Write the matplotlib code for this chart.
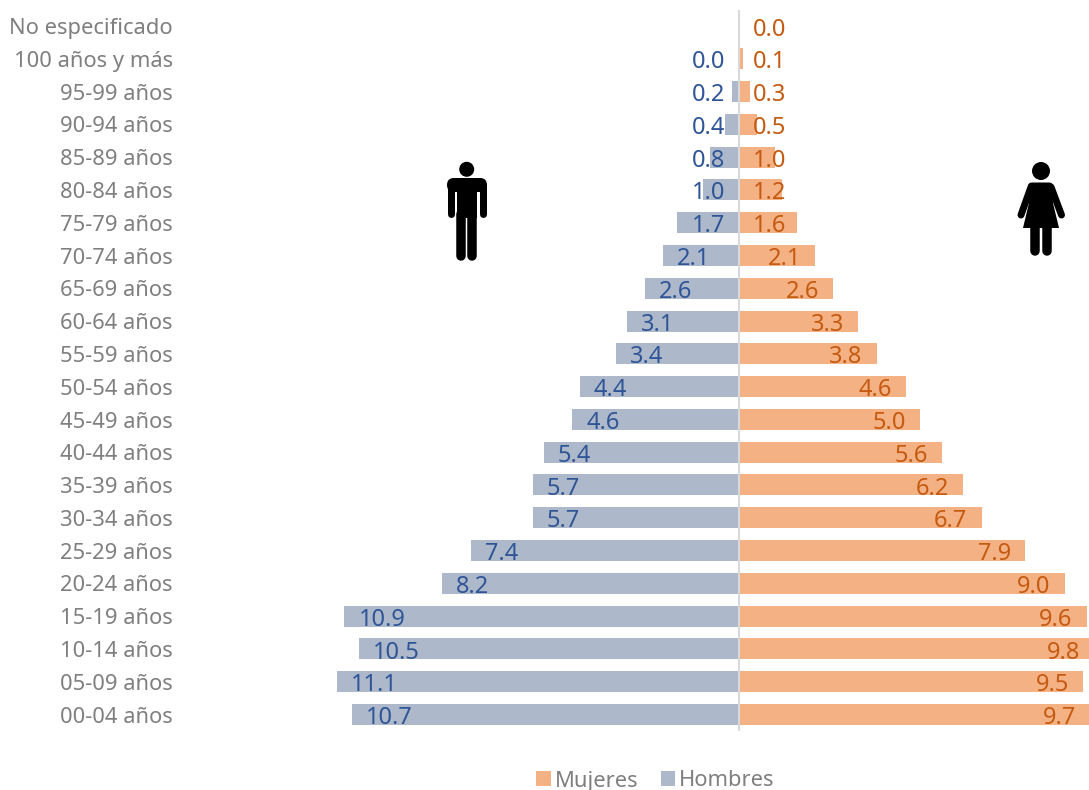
import matplotlib
matplotlib.use('Agg')
import matplotlib.pyplot as plt
from matplotlib.patches import Circle, Polygon, Rectangle, FancyBboxPatch

# age groups, listed from the bottom of the pyramid up
grupos = ['00-04 años', '05-09 años', '10-14 años', '15-19 años', '20-24 años', '25-29 años',
          '30-34 años', '35-39 años', '40-44 años', '45-49 años', '50-54 años', '55-59 años',
          '60-64 años', '65-69 años', '70-74 años', '75-79 años', '80-84 años', '85-89 años',
          '90-94 años', '95-99 años', '100 años y más', 'No especificado']
hombres = [10.7, 11.1, 10.5, 10.9, 8.2, 7.4, 5.7, 5.7, 5.4, 4.6, 4.4, 3.4, 3.1, 2.6, 2.1, 1.7,
           1.0, 0.8, 0.4, 0.2, 0.0, 0.0]
mujeres = [9.7, 9.5, 9.8, 9.6, 9.0, 7.9, 6.7, 6.2, 5.6, 5.0, 4.6, 3.8, 3.3, 2.6, 2.1, 1.6,
           1.2, 1.0, 0.5, 0.3, 0.1, 0.0]

plt.rcParams['font.family'] = ['Noto Sans', 'DejaVu Sans']

COL_H = '#ADB9CA'
COL_M = '#F4B183'
TXT_H = '#2F5597'
TXT_M = '#C55A11'
GRIS = '#7F7F7F'

fig = plt.figure(figsize=(10.89, 7.90), dpi=100)
ax = fig.add_axes([0, 0, 1, 1])
ax.set_xlim(-739 / 36.2, 350 / 36.2)
ax.set_ylim(-75.5 / 32.79, 714.5 / 32.79)
ax.axis('off')

pos = list(range(len(grupos)))
ax.barh(pos, mujeres, height=0.64, color=COL_M, label='Mujeres')
ax.barh(pos, [-v for v in hombres], height=0.64, color=COL_H, label='Hombres')
ax.vlines(0, -0.5, 21.5, color='#D9D9D9', lw=1.5)

for i, g in enumerate(grupos):
    ax.text(-15.64, i - 0.08, g, ha='right', va='center', color=GRIS, fontsize=15.8)
    # labels sit just inside the bar end, small bars get a fixed spot
    if i < 21:
        ax.text(min(-hombres[i] + 0.39, -1.3), i - 0.11, f'{hombres[i]:.1f}', ha='left', va='center',
                color=TXT_H, fontsize=17)
    ax.text(max(mujeres[i] - 0.39, 1.3), i - 0.11, f'{mujeres[i]:.1f}', ha='right', va='center',
            color=TXT_M, fontsize=17)

leg = ax.legend(handles=ax.containers[:2], loc='center', bbox_to_anchor=(655.5 / 1089, 1 - 781 / 790),
                ncol=2, frameon=False, fontsize=15.8, labelcolor=GRIS, handlelength=0.65, handleheight=0.65,
                handletextpad=0.2, columnspacing=1.0, borderpad=0, borderaxespad=0)

# icons, drawn on an overlay in pixel coordinates
ov = fig.add_axes([0, 0, 1, 1])
ov.set_xlim(0, 1089)
ov.set_ylim(790, 0)
ov.axis('off')
px = 72 / 100

# man
ov.add_patch(Circle((466.7, 169.3), 7.5, color='black', lw=0))
ov.add_patch(FancyBboxPatch((447, 178), 40, 14, boxstyle='round,pad=0,rounding_size=7', color='black', lw=0))
ov.add_patch(Rectangle((456.7, 180), 20.6, 38, color='black', lw=0))
for x in [450.7, 483.3]:
    ov.plot([x, x], [186, 213.5], color='black', lw=7 * px, solid_capstyle='round')
for x in [461.3, 472.3]:
    ov.plot([x, x], [214, 255.5], color='black', lw=9.5 * px, solid_capstyle='round')

# woman
ov.add_patch(Circle((1041, 171), 9, color='black', lw=0))
ov.add_patch(FancyBboxPatch((1028, 182.5), 25, 12, boxstyle='round,pad=0,rounding_size=4', color='black', lw=0))
ov.add_patch(Polygon([(1030, 185), (1052, 185), (1053, 203), (1059, 228), (1023, 228), (1029, 203)],
                     closed=True, color='black', lw=0))
ov.plot([1031, 1021], [187, 215], color='black', lw=7 * px, solid_capstyle='round')
ov.plot([1051, 1061.5], [187, 215], color='black', lw=7 * px, solid_capstyle='round')
for x in [1035, 1047]:
    ov.plot([x, x], [226, 250.5], color='black', lw=9.5 * px, solid_capstyle='round')

fig.savefig('out.png', dpi=100)
